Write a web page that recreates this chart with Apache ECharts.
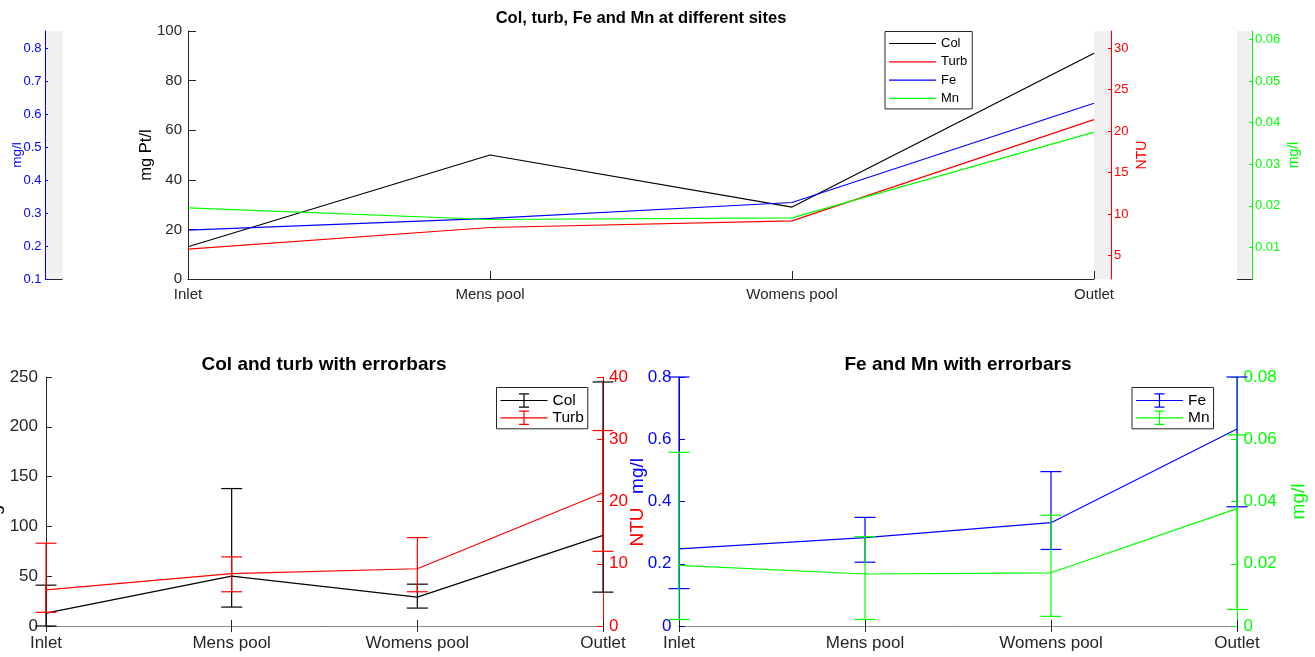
<!DOCTYPE html>
<html>
<head>
<meta charset="utf-8">
<script src="https://cdn.jsdelivr.net/npm/echarts@6/dist/echarts.min.js"></script>
<style>
  html, body { margin: 0; padding: 0; background: #ffffff; }
  #chart { width: 1315px; height: 657px; }
</style>
</head>
<body>
<div id="chart"></div>
<script>
// Sampling sites along the pool system
const sites = ['Inlet', 'Mens pool', 'Womens pool', 'Outlet'];

// Colour (mg Pt/l): mean, minimum and maximum per site
const col = [13, 50, 29, 91];
const colLow = [0, 19, 18, 34];
const colHigh = [41, 138, 42, 245];

// Turbidity (NTU)
const turb = [5.8, 8.4, 9.2, 21.4];
const turbLow = [2.2, 5.5, 5.5, 12.0];
const turbHigh = [13.3, 11.1, 14.2, 31.4];

// Iron (mg/l)
const fe = [0.248, 0.284, 0.332, 0.633];
const feLow = [0.12, 0.205, 0.246, 0.383];
const feHigh = [0.8, 0.349, 0.496, 0.8];

// Manganese (mg/l)
const mn = [0.0195, 0.0167, 0.0171, 0.0377];
const mnLow = [0.0021, 0.0021, 0.0031, 0.0053];
const mnHigh = [0.0558, 0.0287, 0.0356, 0.0614];

// Tick labels of the extra axes in the overview plot
const feSideTicks = [0.1, 0.2, 0.3, 0.4, 0.5, 0.6, 0.7, 0.8];
const turbSideTicks = [5, 10, 15, 20, 25, 30];
const mnSideTicks = [0.01, 0.02, 0.03, 0.04, 0.05, 0.06];

const FONT = '"Liberation Sans", Arial, Helvetica, sans-serif';
const AXIS = '#262626';
const BLACK = '#000000';
const RED = '#ff0000';
const BLUE = '#0000ff';
const GREEN = '#00ff00';
const STRIP = '#f0f0f0';

// Legend glyphs: a plain line, and a line crossed by a capped error bar
const LINE_ICON = 'path://M0,0H47V1.2H0Z';
const ERRBAR_ICON = 'path://M0,6.65H47V7.85H0Z M22.9,0H24.1V14.5H22.9Z M18.5,0H28.5V1.2H18.5Z M18.5,13.3H28.5V14.5H18.5Z';

function catAxis(gridIndex, opt) {
  return Object.assign({
    type: 'category',
    gridIndex: gridIndex,
    data: sites,
    boundaryGap: false,
    axisLine: { show: true, lineStyle: { color: AXIS, width: 1 } },
    axisTick: { show: true, inside: true, length: 6, lineStyle: { color: AXIS } },
    axisLabel: { color: AXIS, fontFamily: FONT, fontSize: 17, margin: 9 },
    splitLine: { show: false }
  }, opt);
}

function valAxis(gridIndex, color, opt) {
  return Object.assign({
    type: 'value',
    gridIndex: gridIndex,
    axisLine: { show: true, onZero: false, lineStyle: { color: color, width: 1 } },
    axisTick: { show: true, inside: true, length: 6, lineStyle: { color: color } },
    axisLabel: { color: color, fontFamily: FONT, fontSize: 17, margin: 8 },
    splitLine: { show: false },
    nameLocation: 'middle',
    nameRotate: 90,
    nameMoveOverlap: false,
    nameTextStyle: { color: color, fontFamily: FONT, fontSize: 19 }
  }, opt);
}

function lineSeries(name, values, xi, yi, color, z) {
  return {
    type: 'line', name: name, data: values,
    xAxisIndex: xi, yAxisIndex: yi,
    symbol: 'none', showSymbol: false,
    lineStyle: { color: color, width: 1.2 },
    itemStyle: { color: color },
    emphasis: { disabled: true },
    silent: true, z: z
  };
}

// Vertical min-max bar with short caps, placed through the axes' own scales
function errorBars(name, low, high, xi, yi, color, z) {
  return {
    type: 'custom', name: name,
    xAxisIndex: xi, yAxisIndex: yi,
    data: sites.map((s, i) => [i, low[i], high[i]]),
    encode: { x: 0, y: [1, 2] },
    itemStyle: { color: color },
    silent: true, z: z,
    renderItem: function (params, api) {
      const pLo = api.coord([api.value(0), api.value(1)]);
      const pHi = api.coord([api.value(0), api.value(2)]);
      const half = 10.5;
      const style = { stroke: color, lineWidth: 1.2, fill: null };
      return {
        type: 'group',
        children: [
          { type: 'line', shape: { x1: pLo[0], y1: pHi[1], x2: pLo[0], y2: pLo[1] }, style: style },
          { type: 'line', shape: { x1: pHi[0] - half, y1: pHi[1], x2: pHi[0] + half, y2: pHi[1] }, style: style },
          { type: 'line', shape: { x1: pLo[0] - half, y1: pLo[1], x2: pLo[0] + half, y2: pLo[1] }, style: style }
        ]
      };
    }
  };
}

function legendEntry(name, color, icon) {
  return {
    name: name, icon: icon,
    itemStyle: { color: color, borderWidth: 0 },
    lineStyle: { color: color, width: 1.2 }
  };
}

function legendBox(opt) {
  return Object.assign({
    orient: 'vertical', selectedMode: false,
    itemWidth: 47, symbolKeepAspect: true,
    itemStyle: { borderWidth: 0 },
    borderColor: AXIS, borderWidth: 1, borderRadius: 0, backgroundColor: '#ffffff',
    textStyle: { fontFamily: FONT, fontSize: 15.5, color: BLACK }
  }, opt);
}

const gridTop = { left: 188, top: 31, width: 906, height: 248 };
const gridBL = { left: 46, top: 377, width: 557, height: 249 };
const gridBR = { left: 679, top: 377, width: 558, height: 249 };

const option = {
  animation: false,
  backgroundColor: '#ffffff',
  textStyle: { fontFamily: FONT },
  title: [
    { text: 'Col, turb, Fe and Mn at different sites', left: 641, top: 9.5, textAlign: 'center', padding: 0,
      textStyle: { fontFamily: FONT, fontSize: 16.5, fontWeight: 'bold', color: BLACK } },
    { text: 'Col and turb with errorbars', left: 324, top: 355.5, textAlign: 'center', padding: 0,
      textStyle: { fontFamily: FONT, fontSize: 19, fontWeight: 'bold', color: BLACK } },
    { text: 'Fe and Mn with errorbars', left: 958, top: 355.5, textAlign: 'center', padding: 0,
      textStyle: { fontFamily: FONT, fontSize: 19, fontWeight: 'bold', color: BLACK } }
  ],
  grid: [
    Object.assign({ outerBoundsMode: 'none', containLabel: false, show: false }, gridTop),
    Object.assign({ outerBoundsMode: 'none', containLabel: false, show: false }, gridBL),
    Object.assign({ outerBoundsMode: 'none', containLabel: false, show: false }, gridBR)
  ],
  legend: [
    legendBox({
      left: 885, top: 31.5,
      data: [
        legendEntry('Col', BLACK, LINE_ICON),
        legendEntry('Turb', RED, LINE_ICON),
        legendEntry('Fe', BLUE, LINE_ICON),
        legendEntry('Mn', GREEN, LINE_ICON)
      ],
      itemHeight: 14, itemGap: 5.3,
      padding: [5.5, 5, 4, 4],
      textStyle: { fontFamily: FONT, fontSize: 13, color: BLACK }
    }),
    legendBox({
      left: 496.5, top: 387.5,
      data: [legendEntry('Col', BLACK, ERRBAR_ICON), legendEntry('Turb', RED, ERRBAR_ICON)],
      itemHeight: 18, itemGap: 1.3,
      padding: [5, 4, 3, 4]
    }),
    legendBox({
      left: 1132, top: 387.5,
      data: [legendEntry('Fe', BLUE, ERRBAR_ICON), legendEntry('Mn', GREEN, ERRBAR_ICON)],
      itemHeight: 18, itemGap: 1.3,
      padding: [5, 4, 3, 4]
    })
  ],
  xAxis: [
    catAxis(0, {
      axisTick: { show: true, inside: true, length: 8, lineStyle: { color: AXIS } },
      axisLabel: { color: AXIS, fontFamily: FONT, fontSize: 15, margin: 8 }
    }),
    catAxis(1, {}),
    catAxis(1, {
      position: 'top',
      axisLine: { show: true, lineStyle: { color: '#8c8c8c', width: 1 } },
      axisTick: { show: true, inside: true, length: 6, lineStyle: { color: AXIS } },
      axisLabel: { show: false }
    }),
    catAxis(2, {}),
    catAxis(2, {
      position: 'top',
      axisLine: { show: true, lineStyle: { color: '#8c8c8c', width: 1 } },
      axisTick: { show: true, inside: true, length: 6, lineStyle: { color: AXIS } },
      axisLabel: { show: false }
    })
  ],
  yAxis: [
    // overview plot: main colour axis
    valAxis(0, AXIS, {
      position: 'left', min: 0, max: 100, interval: 20,
      axisTick: { show: true, inside: true, length: 8, lineStyle: { color: AXIS } },
      axisLabel: { color: AXIS, fontFamily: FONT, fontSize: 15, margin: 6 },
      name: 'mg Pt/l', nameGap: 33,
      nameTextStyle: { color: BLACK, fontFamily: FONT, fontSize: 16.5 }
    }),
    // overview plot: iron axis on the far left
    valAxis(0, BLUE, {
      position: 'left', offset: 143, min: 0.1, max: 0.852,
      axisTick: { show: true, inside: true, length: 3, customValues: feSideTicks, lineStyle: { color: BLUE } },
      axisLabel: { color: BLUE, fontFamily: FONT, fontSize: 13, margin: 3.5, customValues: feSideTicks },
      name: 'mg/l', nameGap: 21,
      nameTextStyle: { color: BLUE, fontFamily: FONT, fontSize: 13.5 }
    }),
    // overview plot: turbidity axis
    valAxis(0, RED, {
      position: 'right', offset: 17, min: 2.19, max: 32.08,
      axisTick: { show: true, inside: true, length: 3, customValues: turbSideTicks, lineStyle: { color: RED } },
      axisLabel: { color: RED, fontFamily: FONT, fontSize: 13, margin: 3, customValues: turbSideTicks },
      name: 'NTU', nameGap: 24,
      nameTextStyle: { color: RED, fontFamily: FONT, fontSize: 14 }
    }),
    // overview plot: manganese axis on the far right
    valAxis(0, GREEN, {
      position: 'right', offset: 158, min: 0.0024, max: 0.062,
      axisTick: { show: true, inside: true, length: 3, customValues: mnSideTicks, lineStyle: { color: GREEN } },
      axisLabel: { color: GREEN, fontFamily: FONT, fontSize: 13, margin: 3, customValues: mnSideTicks },
      name: 'mg/l', nameGap: 35,
      nameTextStyle: { color: GREEN, fontFamily: FONT, fontSize: 14 }
    }),
    // colour / turbidity plot
    valAxis(1, AXIS, {
      position: 'left', min: 0, max: 250, interval: 50,
      name: 'mg Pt/l', nameGap: 42,
      nameTextStyle: { color: BLACK, fontFamily: FONT, fontSize: 19 }
    }),
    valAxis(1, RED, {
      position: 'right', min: 0, max: 40, interval: 10,
      axisLabel: { color: RED, fontFamily: FONT, fontSize: 17, margin: 6 }
    }),
    // iron / manganese plot
    valAxis(2, BLUE, {
      position: 'left', min: 0, max: 0.8, interval: 0.2,
      axisLabel: { color: BLUE, fontFamily: FONT, fontSize: 17, margin: 7.5 }
    }),
    valAxis(2, GREEN, {
      position: 'right', min: 0, max: 0.08, interval: 0.02,
      axisLabel: { color: GREEN, fontFamily: FONT, fontSize: 17, margin: 6.5 },
      name: 'mg/l', nameGap: 52
    })
  ],
  graphic: [
    // shaded bands behind the extra axes of the overview plot
    { type: 'rect', z: -10, silent: true, shape: { x: 45.5, y: 31, width: 17, height: 248 }, style: { fill: STRIP } },
    { type: 'rect', z: -10, silent: true, shape: { x: 1094, y: 31, width: 17, height: 248 }, style: { fill: STRIP } },
    { type: 'rect', z: -10, silent: true, shape: { x: 1237, y: 31, width: 15, height: 248 }, style: { fill: STRIP } },
    { type: 'line', silent: true, shape: { x1: 45.5, y1: 279.5, x2: 62.5, y2: 279.5 }, style: { stroke: AXIS, lineWidth: 1 } },
    { type: 'line', silent: true, shape: { x1: 1237, y1: 279.5, x2: 1252.5, y2: 279.5 }, style: { stroke: AXIS, lineWidth: 1 } },
    // unit labels between the two lower plots
    { type: 'text', silent: true, x: 638, y: 527, rotation: Math.PI / 2,
      style: { text: 'NTU', fill: RED, font: '19px ' + FONT, align: 'center', verticalAlign: 'middle' } },
    { type: 'text', silent: true, x: 638, y: 476, rotation: Math.PI / 2,
      style: { text: 'mg/l', fill: BLUE, font: '19px ' + FONT, align: 'center', verticalAlign: 'middle' } }
  ],
  series: [
    lineSeries('Col', col, 0, 0, BLACK, 3),
    lineSeries('Turb', turb, 0, 2, RED, 3),
    lineSeries('Fe', fe, 0, 1, BLUE, 3),
    lineSeries('Mn', mn, 0, 3, GREEN, 3),

    lineSeries('Col', col, 1, 4, BLACK, 3),
    errorBars('Col', colLow, colHigh, 1, 4, BLACK, 4),
    lineSeries('Turb', turb, 1, 5, RED, 5),
    errorBars('Turb', turbLow, turbHigh, 1, 5, RED, 6),

    lineSeries('Fe', fe, 3, 6, BLUE, 3),
    errorBars('Fe', feLow, feHigh, 3, 6, BLUE, 4),
    lineSeries('Mn', mn, 3, 7, GREEN, 5),
    errorBars('Mn', mnLow, mnHigh, 3, 7, GREEN, 6)
  ]
};

const chart = echarts.init(document.getElementById('chart'), null, { renderer: 'canvas' });
chart.setOption(option);
</script>
</body>
</html>
